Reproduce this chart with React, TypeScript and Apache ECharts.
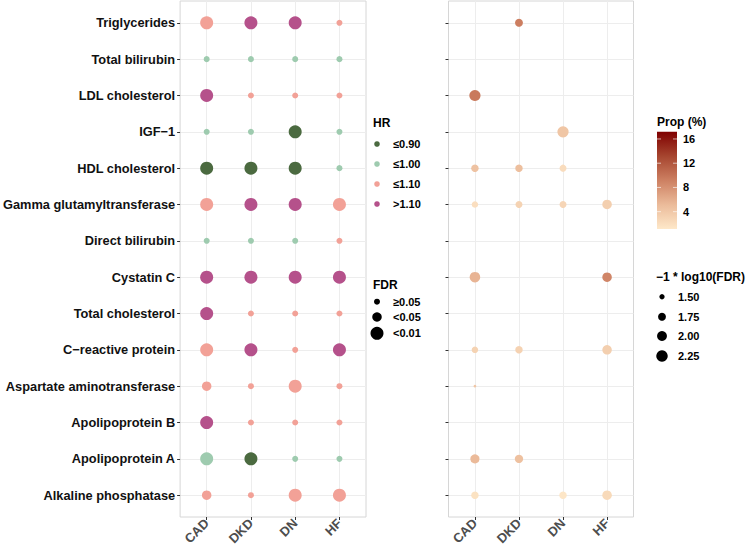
import React, { useEffect, useRef } from 'react';
import * as echarts from 'echarts';

const biomarkers = [
  'Triglycerides',
  'Total bilirubin',
  'LDL cholesterol',
  'IGF−1',
  'HDL cholesterol',
  'Gamma glutamyltransferase',
  'Direct bilirubin',
  'Cystatin C',
  'Total cholesterol',
  'C−reactive protein',
  'Aspartate aminotransferase',
  'Apolipoprotein B',
  'Apolipoprotein A',
  'Alkaline phosphatase',
];
const outcomes = ['CAD', 'DKD', 'DN', 'HF'];

const hrLevels = ['≤0.90', '≤1.00', '≤1.10', '>1.10'];
const hrColors = ['#4B6A40', '#9ECBAF', '#F2A197', '#B5518B'];
const fdrLevels = ['≥0.05', '<0.05', '<0.01'];
const fdrSizes = [6, 9.5, 13];

// rows = biomarkers, columns = CAD, DKD, DN, HF
const hrGroup = [
  ['≤1.10', '>1.10', '>1.10', '≤1.10'],
  ['≤1.00', '≤1.00', '≤1.00', '≤1.00'],
  ['>1.10', '≤1.10', '≤1.10', '≤1.10'],
  ['≤1.00', '≤1.00', '≤0.90', '≤1.00'],
  ['≤0.90', '≤0.90', '≤0.90', '≤1.00'],
  ['≤1.10', '>1.10', '>1.10', '≤1.10'],
  ['≤1.00', '≤1.00', '≤1.00', '≤1.10'],
  ['>1.10', '>1.10', '>1.10', '>1.10'],
  ['>1.10', '≤1.10', '≤1.10', '≤1.10'],
  ['≤1.10', '>1.10', '≤1.10', '>1.10'],
  ['≤1.10', '≤1.10', '≤1.10', '≤1.10'],
  ['>1.10', '≤1.10', '≤1.10', '≤1.10'],
  ['≤1.00', '≤0.90', '≤1.00', '≤1.00'],
  ['≤1.10', '≤1.10', '≤1.10', '≤1.10'],
];
const fdrGroup = [
  ['<0.01', '<0.01', '<0.01', '≥0.05'],
  ['≥0.05', '≥0.05', '≥0.05', '≥0.05'],
  ['<0.01', '≥0.05', '≥0.05', '≥0.05'],
  ['≥0.05', '≥0.05', '<0.01', '≥0.05'],
  ['<0.01', '<0.01', '<0.01', '≥0.05'],
  ['<0.01', '<0.01', '<0.01', '<0.01'],
  ['≥0.05', '≥0.05', '≥0.05', '≥0.05'],
  ['<0.01', '<0.01', '<0.01', '<0.01'],
  ['<0.01', '≥0.05', '≥0.05', '≥0.05'],
  ['<0.01', '<0.01', '≥0.05', '<0.01'],
  ['<0.05', '≥0.05', '<0.01', '≥0.05'],
  ['<0.01', '≥0.05', '≥0.05', '≥0.05'],
  ['<0.01', '<0.01', '≥0.05', '≥0.05'],
  ['<0.05', '≥0.05', '<0.01', '<0.01'],
];

// right panel
const propBiomarker = [
  'Triglycerides', 'LDL cholesterol', 'IGF−1',
  'HDL cholesterol', 'HDL cholesterol', 'HDL cholesterol',
  'Gamma glutamyltransferase', 'Gamma glutamyltransferase', 'Gamma glutamyltransferase', 'Gamma glutamyltransferase',
  'Cystatin C', 'Cystatin C',
  'C−reactive protein', 'C−reactive protein', 'C−reactive protein',
  'Aspartate aminotransferase',
  'Apolipoprotein A', 'Apolipoprotein A',
  'Alkaline phosphatase', 'Alkaline phosphatase', 'Alkaline phosphatase',
];
const propOutcome = [
  'DKD', 'CAD', 'DN',
  'CAD', 'DKD', 'DN',
  'CAD', 'DKD', 'DN', 'HF',
  'CAD', 'HF',
  'CAD', 'DKD', 'HF',
  'CAD',
  'CAD', 'DKD',
  'CAD', 'DN', 'HF',
];
const propNegLogFdr = [
  1.75, 2.2, 2.2,
  1.7, 1.7, 1.65,
  1.6, 1.65, 1.65, 1.95,
  2.1, 1.95,
  1.6, 1.7, 1.95,
  1.35,
  1.9, 1.8,
  1.7, 1.7, 1.95,
];
const propValue = [
  9.3, 9.6, 4.2,
  4.5, 4.8, 2.2,
  2.0, 3.0, 2.8, 3.4,
  5.6, 8.8,
  3.0, 3.1, 3.4,
  4.2,
  5.2, 4.6,
  1.7, 1.3, 2.4,
];
const propTicks = [4, 8, 12, 16];
const propMin = 1.14;
const propMax = 17.2;
const propColors = ['#FEE8C9', '#EBBB9A', '#CD8062', '#A6452F', '#7F0000'];
const fdrLegendValues = [1.5, 1.75, 2.0, 2.25];

const FONT = '"Liberation Sans", Arial, sans-serif';
const bubbleSize = (v: number) => Math.sqrt(Math.max(5, 7.3 + 138.6 * (v - 1.35)));

export default function App() {
  const ref = useRef<HTMLDivElement>(null);
  useEffect(() => {
    document.body.style.margin = '0';
    if (!ref.current) return;
    const chart = echarts.init(ref.current, undefined, { renderer: 'svg' });

    const rowTicks = biomarkers.map((_, i) => i + 1);
    const colTicks = outcomes.map((_, i) => i + 1);

    const xAxisBase = (gridIndex: number) => ({
      type: 'value',
      gridIndex,
      min: 0.4,
      max: 4.6,
      axisLine: { show: false },
      axisTick: { show: true, length: 3, customValues: colTicks, lineStyle: { color: '#333' } },
      axisLabel: {
        customValues: colTicks,
        formatter: (v: number) => outcomes[Math.round(v) - 1] ?? '',
        rotate: 45,
        fontFamily: FONT,
        fontWeight: 'bold',
        fontSize: 13,
        color: '#4D4D4D',
        margin: 4,
      },
      splitLine: { show: true, lineStyle: { color: '#EDEDED', width: 1 } },
    });
    const yAxisBase = (gridIndex: number, showLabel: boolean) => ({
      type: 'value',
      gridIndex,
      min: 0.4,
      max: 14.6,
      inverse: true,
      axisLine: { show: false },
      axisTick: { show: true, length: 3, customValues: rowTicks, lineStyle: { color: '#333' } },
      axisLabel: {
        show: showLabel,
        customValues: rowTicks,
        formatter: (v: number) => biomarkers[Math.round(v) - 1] ?? '',
        fontFamily: FONT,
        fontWeight: 'bold',
        fontSize: 12.8,
        color: '#111',
        margin: 5,
      },
      splitLine: { show: true, lineStyle: { color: '#EDEDED', width: 1 } },
    });

    const leftSeries = hrLevels.map((lvl, h) => {
      const data: number[][] = [];
      hrGroup.forEach((row, r) =>
        row.forEach((g, c) => {
          if (g === lvl) data.push([c + 1, r + 1, fdrLevels.indexOf(fdrGroup[r][c])]);
        })
      );
      return {
        type: 'scatter',
        name: lvl,
        xAxisIndex: 0,
        yAxisIndex: 0,
        data,
        symbolSize: (d: number[]) => fdrSizes[d[2]],
        itemStyle: { color: hrColors[h], opacity: 1 },
        z: 3,
      };
    });

    const rightData = propValue.map((p, i) => [
      outcomes.indexOf(propOutcome[i]) + 1,
      biomarkers.indexOf(propBiomarker[i]) + 1,
      propNegLogFdr[i],
      p,
    ]);

    // legends
    const graphics: any[] = [];
    const txt = (x: number, y: number, text: string, size: number, extra: any = {}) => ({
      type: 'text',
      x,
      y,
      style: {
        text,
        fontFamily: FONT,
        fontWeight: 'bold',
        fontSize: size,
        fill: '#000',
        verticalAlign: 'middle',
        align: 'left',
        ...extra,
      },
    });
    const TITLE = 12;
    const ITEM = 11;
    graphics.push(txt(373, 123, 'HR', TITLE));
    hrLevels.forEach((lvl, i) => {
      const y = 144 + i * 20;
      graphics.push({ type: 'circle', shape: { cx: 377, cy: y, r: 2.8 }, style: { fill: hrColors[i] } });
      graphics.push(txt(393, y, lvl, ITEM));
    });
    graphics.push(txt(373, 285, 'FDR', TITLE));
    fdrLevels.forEach((lvl, i) => {
      const y = [301.7, 317, 333.3][i];
      graphics.push({ type: 'circle', shape: { cx: 377, cy: y, r: fdrSizes[i] / 2 }, style: { fill: '#000' } });
      graphics.push(txt(393, y, lvl, ITEM));
    });

    // colorbar
    const cbX = 657, cbY = 131.7, cbW = 20, cbH = 97.3;
    graphics.push(txt(657, 122, 'Prop (%)', TITLE));
    graphics.push({
      type: 'rect',
      shape: { x: cbX, y: cbY, width: cbW, height: cbH },
      style: {
        fill: new echarts.graphic.LinearGradient(0, 1, 0, 0,
          propColors.map((c, i) => ({ offset: i / (propColors.length - 1), color: c }))),
      },
    });
    propTicks.forEach((t) => {
      const y = cbY + cbH - ((t - propMin) / (propMax - propMin)) * cbH;
      graphics.push({ type: 'line', shape: { x1: cbX, y1: y, x2: cbX + 4, y2: y }, style: { stroke: 'rgba(255,255,255,0.8)', lineWidth: 0.8 } });
      graphics.push({ type: 'line', shape: { x1: cbX + cbW - 4, y1: y, x2: cbX + cbW, y2: y }, style: { stroke: 'rgba(255,255,255,0.8)', lineWidth: 0.8 } });
      graphics.push(txt(683, y, String(t), ITEM));
    });

    graphics.push(txt(656, 277, '−1 * log10(FDR)', TITLE));
    fdrLegendValues.forEach((v, i) => {
      const y = [296.7, 316.7, 336, 356][i];
      graphics.push({ type: 'circle', shape: { cx: 662, cy: y, r: bubbleSize(v) / 2 }, style: { fill: '#000' } });
      graphics.push(txt(678, y, v.toFixed(2), ITEM));
    });

    chart.setOption({
      animation: false,
      backgroundColor: '#fff',
      textStyle: { fontFamily: FONT },
      grid: [
        { left: 175, top: 1, width: 191, height: 516, show: true, borderColor: '#D6D6D6', borderWidth: 1, backgroundColor: 'transparent' },
        { left: 448.5, top: 1, width: 185, height: 516, show: true, borderColor: '#D6D6D6', borderWidth: 1, backgroundColor: 'transparent' },
      ],
      xAxis: [xAxisBase(0), xAxisBase(1)],
      yAxis: [yAxisBase(0, true), yAxisBase(1, false)],
      visualMap: {
        type: 'continuous',
        show: false,
        seriesIndex: 4,
        dimension: 3,
        min: propMin,
        max: propMax,
        inRange: { color: propColors },
      },
      series: [
        ...leftSeries,
        {
          type: 'scatter',
          xAxisIndex: 1,
          yAxisIndex: 1,
          data: rightData,
          symbolSize: (d: number[]) => bubbleSize(d[2]),
          itemStyle: { opacity: 1 },
          z: 3,
        },
      ],
      graphic: graphics,
    });
    return () => chart.dispose();
  }, []);
  return <div ref={ref} style={{ width: 747, height: 548 }} />;
}
